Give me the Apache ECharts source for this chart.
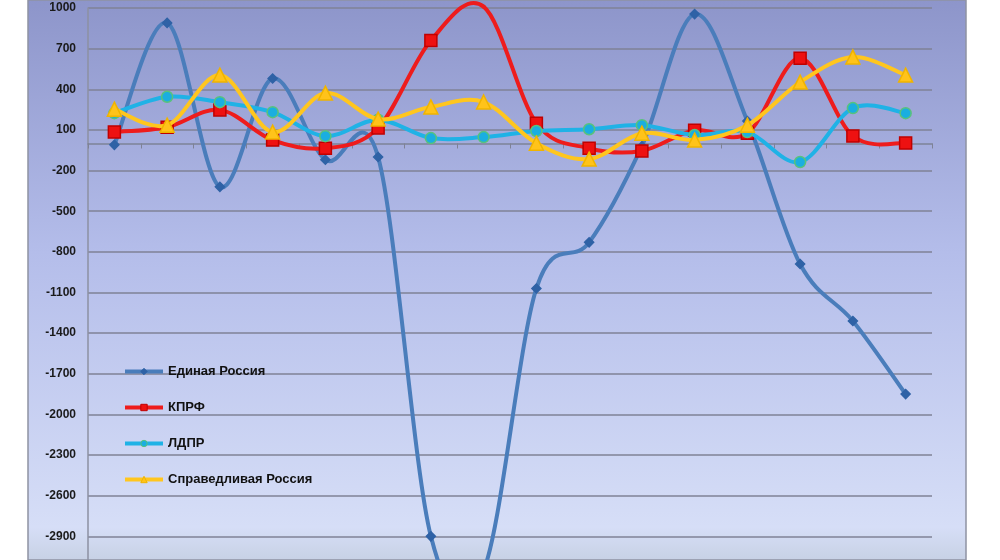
<!DOCTYPE html>
<html>
<head>
<meta charset="utf-8">
<script src="https://cdn.jsdelivr.net/npm/echarts@6/dist/echarts.min.js"></script>
<style>
html,body{margin:0;padding:0;background:#fff;}
#chart{width:1000px;height:560px;}
</style>
</head>
<body>
<div id="chart"></div>
<script>
const categories = ['1','2','3','4','5','6','7','8','9','10','11','12','13','14','15','16'];
const yTicks = [1000, 700, 400, 100, -200, -500, -800, -1100, -1400, -1700, -2000, -2300, -2600, -2900, -3200];
const seriesNames = ['Единая Россия', 'КПРФ', 'ЛДПР', 'Справедливая Россия'];
const edinayaRossiya = [-10, 890, -320, 480, -120, -100, -2900, -3150, -1070, -730, -20, 955, 165, -890, -1310, -1850];
const kprf = [85, 120, 248, 25, -35, 115, 760, 1010, 150, -35, -55, 98, 76, 630, 55, 3];
const ldpr = [224, 345, 305, 231, 54, 175, 40, 47, 92, 105, 135, 62, 84, -137, 261, 224];
const spravRossiya = [253, 135, 505, 84, 372, 180, 270, 306, 2, -115, 76, 25, 135, 453, 638, 505];

const chart = echarts.init(document.getElementById('chart'), null, {renderer: 'canvas'});
const FONT = 'Liberation Sans, Arial, sans-serif';

const styles = [
  {line: '#4a7dbb', symbol: 'diamond', size: 9, fill: '#2f62a6', border: '#2f62a6'},
  {line: '#ee1c1c', symbol: 'rect', size: 12, fill: '#ee1111', border: '#c00000'},
  {line: '#1fb2e6', symbol: 'circle', size: 11, fill: '#1aaee0', border: '#59c27c'},
  {line: '#ffc61e', symbol: 'triangle', size: 14, fill: '#ffc31a', border: '#f0b400'}
];
const allData = [edinayaRossiya, kprf, ldpr, spravRossiya];

// Excel-like smoothed curve (Catmull-Rom bezier), positions from the axes via api.coord
function curveSeries(idx) {
  const st = styles[idx];
  return {
    name: seriesNames[idx] + ' (кривая)',
    type: 'custom',
    data: allData[idx].map((v, i) => [i, v]),
    encode: {x: 0, y: 1},
    silent: true,
    z: 2 + idx * 2,
    renderItem: function (params, api) {
      const i = params.dataIndexInside;
      const n = params.dataInsideLength;
      if (i >= n - 1) return null;
      const pt = k => api.coord([api.value(0, k), api.value(1, k)]);
      const p0 = pt(Math.max(i - 1, 0));
      const p1 = pt(i);
      const p2 = pt(i + 1);
      const p3 = pt(Math.min(i + 2, n - 1));
      const t = 1 / 6;
      return {
        type: 'bezierCurve',
        shape: {
          x1: p1[0], y1: p1[1], x2: p2[0], y2: p2[1],
          cpx1: p1[0] + (p2[0] - p0[0]) * t, cpy1: p1[1] + (p2[1] - p0[1]) * t,
          cpx2: p2[0] - (p3[0] - p1[0]) * t, cpy2: p2[1] - (p3[1] - p1[1]) * t
        },
        style: {stroke: st.line, lineWidth: 4, fill: null, lineCap: 'round'}
      };
    }
  };
}

function markerSeries(idx) {
  const st = styles[idx];
  return {
    name: seriesNames[idx],
    type: 'line',
    data: allData[idx],
    symbol: st.symbol,
    symbolSize: st.size,
    showSymbol: true,
    lineStyle: {color: st.line, width: 4, opacity: 0},
    itemStyle: {color: st.fill, borderColor: st.border, borderWidth: 1.5},
    emphasis: {disabled: true},
    z: 3 + idx * 2
  };
}

const series = [];
for (let k = 0; k < 4; k++) { series.push(curveSeries(k)); series.push(markerSeries(k)); }

const option = {
  animation: false,
  backgroundColor: '#ffffff',
  graphic: [
    {
      type: 'rect',
      z: -10,
      silent: true,
      shape: {x: 28, y: 0, width: 938, height: 560},
      style: {
        fill: new echarts.graphic.LinearGradient(0, 0, 0, 1, [
          {offset: 0, color: '#8d95ca'},
          {offset: 0.45, color: '#b4bdea'},
          {offset: 0.94, color: '#d6def7'},
          {offset: 1, color: '#c7d1e4'}
        ]),
        stroke: '#8f93a3',
        lineWidth: 1.5
      }
    }
  ],
  legend: {
    orient: 'vertical',
    left: 123,
    top: 365,
    padding: 0,
    itemGap: 23,
    itemWidth: 38,
    itemHeight: 8,
    selectedMode: false,
    data: seriesNames.map((name, i) => ({
      name: name,
      lineStyle: {color: styles[i].line, width: 4, opacity: 1},
      itemStyle: {color: styles[i].fill, borderColor: styles[i].border, borderWidth: 1}
    })),
    textStyle: {fontFamily: FONT, fontWeight: 'bold', fontSize: 13, color: '#111'}
  },
  grid: {left: 88, right: 68, top: 8, height: 569, containLabel: false, outerBoundsMode: 'none'},
  xAxis: {
    type: 'category',
    data: categories,
    boundaryGap: true,
    axisLine: {onZero: true, lineStyle: {color: '#7e8296', width: 1.5}},
    axisTick: {show: true, interval: 0, length: 5, lineStyle: {color: '#7e8296'}},
    axisLabel: {show: false},
    splitLine: {show: false}
  },
  yAxis: {
    type: 'value',
    min: yTicks[yTicks.length - 1],
    max: yTicks[0],
    interval: yTicks[0] - yTicks[1],
    axisLine: {show: true, lineStyle: {color: '#8c90a2', width: 1.5}},
    axisTick: {show: false},
    axisLabel: {
      margin: 12,
      formatter: v => String(v),
      fontFamily: FONT, fontWeight: 'bold', fontSize: 12, color: '#1a1a1a'
    },
    splitLine: {show: true, lineStyle: {color: '#7f8296', width: 1.5}}
  },
  series: series
};
chart.setOption(option);
</script>
</body>
</html>
